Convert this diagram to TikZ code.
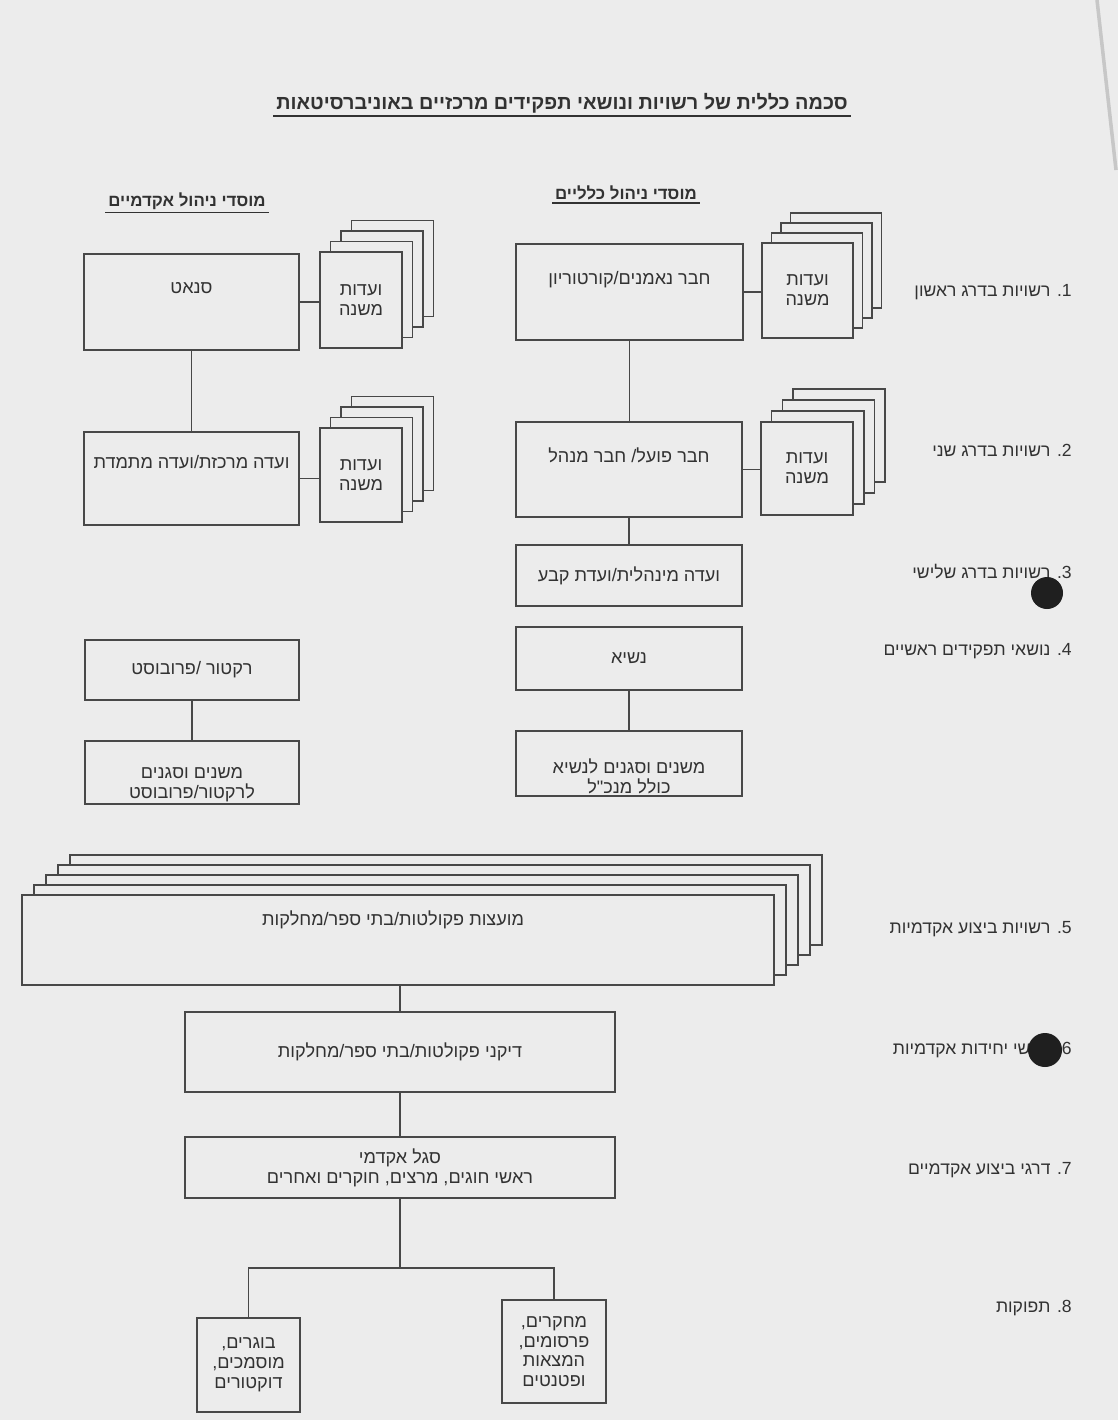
\documentclass[tikz,border=0pt]{standalone}
\usepackage{fontspec}
\setmainfont{Liberation Sans}
\newfontfamily\hebfont[Script=Hebrew]{Liberation Sans}
\TeXXeTstate=1
\usetikzlibrary{calc}
\newcommand{\hebr}[1]{{\hebfont\beginR #1\endR}}

\definecolor{paper}{RGB}{236,236,236}
\definecolor{ink}{RGB}{72,72,72}
\definecolor{type}{RGB}{50,50,50}

\tikzset{
  box/.style 2 args={draw=ink, line width=0.9pt, fill=paper, inner sep=0pt,
    minimum width=#1*0.02cm, minimum height=#2*0.02cm,
    font=\fontsize{10.3}{11.3}\selectfont, text=type, align=center},
  sheet/.style={draw=ink, fill=paper, line width=0.9pt},
  txt/.style={font=\fontsize{10.3}{11.3}\selectfont, text=type, align=center, inner sep=0pt},
  side/.style={anchor=east, font=\fontsize{10}{12}\selectfont, text=type, inner sep=0pt},
  head/.style={font=\bfseries\fontsize{9.6}{11}\selectfont, text=type, inner sep=1.5pt},
  link/.style={draw=ink, line width=0.9pt},
  uline/.style={draw=type, line width=0.8pt}
}

\begin{document}
\begin{tikzpicture}[x=0.02cm, y=-0.02cm]

% Paper
\fill[paper] (0,0) rectangle (1118,1420);
\useasboundingbox (0,0) rectangle (1118,1420);
\draw[black!22, line width=2pt] (1097,0) -- (1116,170);

% Title
\node[head, font=\bfseries\fontsize{11.3}{13}\selectfont] (title) at (562,103)
  {\hebr{סכמה כללית של רשויות ונושאי תפקידים מרכזיים באוניברסיטאות}};
\draw[uline] (title.south west) -- (title.south east);

% Column headers
\node[head] (acad-head) at (187,201) {\hebr{מוסדי ניהול אקדמיים}};
\draw[uline] (acad-head.south west) -- (acad-head.south east);
\node[head] (gen-head) at (626,193) {\hebr{מוסדי ניהול כלליים}};
\draw[uline] (gen-head.south west) -- (gen-head.south east);

% Stacked sheets behind the sub-committee boxes
\foreach \k in {3,2,1} {
  \draw[sheet] (320+\k*10.5,252-\k*10.5) rectangle (402+\k*10.5,348-\k*10.5);
  \draw[sheet] (320+\k*10.5,428-\k*10.5) rectangle (402+\k*10.5,522-\k*10.5);
  \draw[sheet] (762+\k*9.5,243-\k*10) rectangle (853+\k*9.5,338-\k*10);
  \draw[sheet] (761+\k*10.7,422-\k*11) rectangle (853+\k*10.7,515-\k*11);
}
\foreach \k in {4,3,2,1}
  \draw[sheet] (22+\k*12,895-\k*10) rectangle (774+\k*12,985-\k*10);

% Academic column
\node[box={215}{96}] (senate) at (191.5,302) {};
\node[txt] (senate-t) at (191.5,288) {\hebr{סנאט}};
\node[box={82}{96}] (senate-sub) at (361,300) {\hebr{ועדות}\\\hebr{משנה}};

\node[box={215}{93}] (central) at (191.5,478.5) {};
\node[txt] (central-t) at (191.5,462) {\hebr{ועדה מרכזת/ועדה מתמדת}};
\node[box={82}{94}] (central-sub) at (361,475) {\hebr{ועדות}\\\hebr{משנה}};

\node[box={214}{60}] (rector) at (192,670) {\hebr{רקטור /פרובוסט}};
\node[box={214}{63}] (vicerector) at (192,772.5) {};
\node[txt] (vicerector-t) at (192,785) {\hebr{משנים וסגנים}\\\hebr{לרקטור/פרובוסט}};

% General column
\node[box={227}{96}] (trustees) at (629.5,292) {};
\node[txt] (trustees-t) at (629.5,280) {\hebr{חבר נאמנים/קורטוריון}};
\node[box={91}{95}] (trustees-sub) at (807.5,290.5) {\hebr{ועדות}\\\hebr{משנה}};

\node[box={226}{95}] (board) at (629,469.5) {};
\node[txt] (board-t) at (629,455) {\hebr{חבר פועל/ חבר מנהל}};
\node[box={92}{93}] (board-sub) at (807,468.5) {\hebr{ועדות}\\\hebr{משנה}};

\node[box={226}{61}] (admin) at (629,575.5) {\hebr{ועדה מינהלית/ועדת קבע}};
\node[box={226}{63}] (president) at (629,658.5) {\hebr{נשיא}};
\node[box={226}{65}] (vicepres) at (629,763.5) {};
\node[txt] (vicepres-t) at (629,776) {\hebr{משנים וסגנים לנשיא}\\\hebr{כולל מנכ"ל}};

% Academic units
\node[box={752}{90}] (councils) at (398,940) {};
\node[txt] (councils-t) at (393,920) {\hebr{מועצות פקולטות/בתי ספר/מחלקות}};
\node[box={430}{80}] (deans) at (400,1052) {\hebr{דיקני פקולטות/בתי ספר/מחלקות}};
\node[box={430}{61}] (staff) at (400,1167.5)
  {\hebr{סגל אקדמי}\\\hebr{ראשי חוגים, מרצים, חוקרים ואחרים}};
\node[box={103}{94}] (grads) at (248.5,1365)
  {\hebr{בוגרים,}\\\hebr{מוסמכים,}\\\hebr{דוקטורים}};
\node[box={104}{103}] (research) at (554,1351.5)
  {\hebr{מחקרים,}\\\hebr{פרסומים,}\\\hebr{המצאות}\\\hebr{ופטנטים}};
\coordinate (fork) at (400,1268);

% Connectors
\draw[link] (senate) -- (central);
\draw[link] (senate.east) -- (senate.east -| senate-sub.west);
\draw[link] (central.east) -- (central.east -| central-sub.west);
\draw[link] (rector) -- (vicerector);
\draw[link] (trustees.south) -- (trustees.south |- board.north);
\draw[link] (trustees.east) -- (trustees.east -| trustees-sub.west);
\draw[link] (board.east) -- (board.east -| board-sub.west);
\draw[link] (board) -- (admin);
\draw[link] (president) -- (vicepres);
\draw[link] (councils.south -| deans.north) -- (deans.north);
\draw[link] (deans) -- (staff);
\draw[link] (staff) -- (fork);
\draw[link] (grads.north) |- (fork) -| (research.north);

% Levels
\node[side] (lvl1) at (1072,292) {\hebr{1. רשויות בדרג ראשון}};
\node[side] (lvl2) at (1072,450) {\hebr{2. רשויות בדרג שני}};
\node[side] (lvl3) at (1072,572) {\hebr{3. רשויות בדרג שלישי}};
\node[side] (lvl4) at (1072,651) {\hebr{4. נושאי תפקידים ראשיים}};
\node[side] (lvl5) at (1072,929) {\hebr{5. רשויות ביצוע אקדמיות}};
\node[side] (lvl6) at (1072,1050) {\hebr{6. ראשי יחידות אקדמיות}};
\node[side] (lvl7) at (1072,1170) {\hebr{7. דרגי ביצוע אקדמיים}};
\node[side] (lvl8) at (1072,1308) {\hebr{8. תפוקות}};

% Punch holes
\fill[black!88] (1047,593) circle[radius=16];
\fill[black!88] (1045,1050) circle[radius=17];

\end{tikzpicture}
\end{document}
